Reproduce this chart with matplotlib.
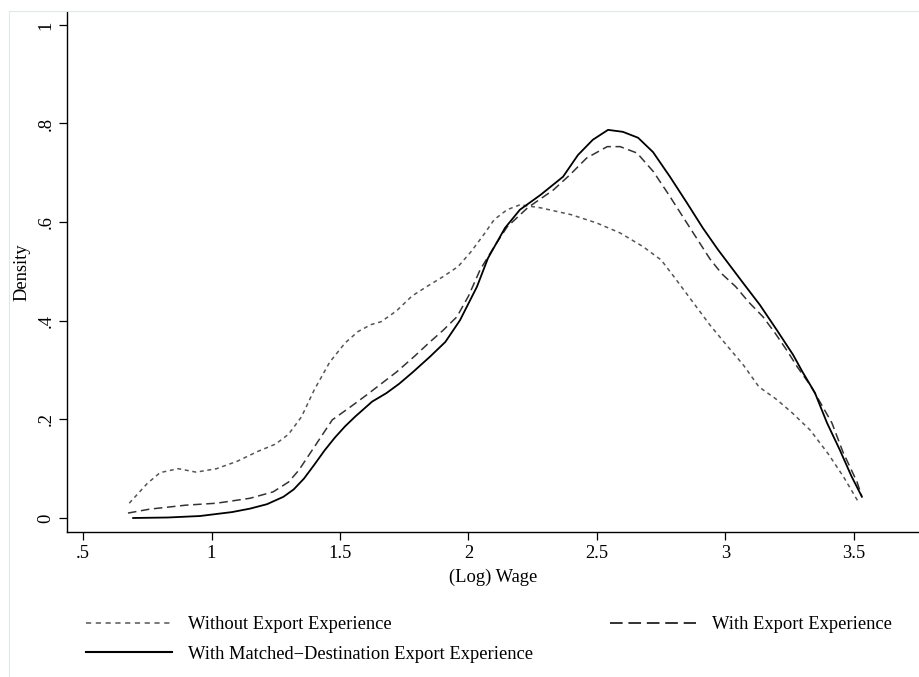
import matplotlib
matplotlib.use('Agg')
import matplotlib.pyplot as plt
from matplotlib.lines import Line2D

#%% data

# Without Export Experience (dotted)
x_wo = [0.68, 0.75, 0.80, 0.87, 0.94, 1.02, 1.10, 1.18, 1.25, 1.30, 1.35, 1.40,
        1.46, 1.52, 1.57, 1.62, 1.66, 1.72, 1.78, 1.84, 1.90, 1.96, 2.01, 2.06,
        2.10, 2.15, 2.20, 2.28, 2.40, 2.50, 2.59, 2.68, 2.75, 2.80, 2.87, 2.94,
        3.01, 3.07, 3.13, 3.20, 3.26, 3.33, 3.40, 3.46, 3.52]
y_wo = [0.030, 0.070, 0.092, 0.100, 0.093, 0.100, 0.115, 0.135, 0.150, 0.170, 0.205, 0.260,
        0.316, 0.355, 0.378, 0.392, 0.398, 0.420, 0.450, 0.470, 0.489, 0.510, 0.540, 0.575,
        0.605, 0.625, 0.635, 0.629, 0.615, 0.598, 0.578, 0.550, 0.523, 0.489, 0.440, 0.391,
        0.347, 0.310, 0.266, 0.240, 0.213, 0.178, 0.130, 0.083, 0.030]

# With Export Experience (dashed)
x_w = [0.675, 0.76, 0.90, 1.02, 1.15, 1.24, 1.30, 1.34, 1.40, 1.47, 1.54, 1.605,
       1.66, 1.72, 1.79, 1.85, 1.90, 1.955, 2.00, 2.045, 2.10, 2.15, 2.23, 2.33,
       2.395, 2.46, 2.54, 2.59, 2.656, 2.72, 2.78, 2.85, 2.94, 2.986, 3.04, 3.09,
       3.146, 3.193, 3.24, 3.28, 3.329, 3.368, 3.414, 3.457, 3.512, 3.53]
y_w = [0.010, 0.018, 0.026, 0.030, 0.040, 0.053, 0.073, 0.097, 0.144, 0.199, 0.225, 0.250,
       0.272, 0.296, 0.328, 0.357, 0.380, 0.408, 0.450, 0.503, 0.550, 0.590, 0.629, 0.665,
       0.696, 0.730, 0.753, 0.753, 0.740, 0.702, 0.655, 0.598, 0.525, 0.495, 0.469, 0.438,
       0.408, 0.375, 0.339, 0.306, 0.270, 0.235, 0.193, 0.134, 0.073, 0.045]

# With Matched-Destination Export Experience (solid)
x_m = [0.695, 0.83, 0.955, 1.08, 1.15, 1.216, 1.28, 1.32, 1.36, 1.40, 1.44, 1.48,
       1.52, 1.56, 1.625, 1.68, 1.73, 1.784, 1.85, 1.91, 1.967, 2.033, 2.076, 2.142,
       2.20, 2.28, 2.368, 2.426, 2.484, 2.543, 2.601, 2.66, 2.718, 2.784, 2.85, 2.912,
       2.971, 3.068, 3.134, 3.20, 3.263, 3.30, 3.348, 3.395, 3.445, 3.49, 3.531]
y_m = [0.000, 0.001, 0.004, 0.012, 0.019, 0.028, 0.043, 0.058, 0.080, 0.108, 0.137, 0.163,
       0.186, 0.206, 0.236, 0.253, 0.272, 0.296, 0.327, 0.357, 0.401, 0.469, 0.527, 0.588,
       0.625, 0.655, 0.692, 0.736, 0.767, 0.787, 0.783, 0.771, 0.742, 0.692, 0.639, 0.588,
       0.544, 0.477, 0.432, 0.381, 0.331, 0.296, 0.254, 0.193, 0.138, 0.085, 0.043]

xticks = [0.5, 1, 1.5, 2, 2.5, 3, 3.5]
xticklabels = ['.5', '1', '1.5', '2', '2.5', '3', '3.5']
yticks = [0, 0.2, 0.4, 0.6, 0.8, 1]
yticklabels = ['0', '.2', '.4', '.6', '.8', '1']

lab_wo = 'Without Export Experience'
lab_w = 'With Export Experience'
lab_m = 'With Matched\u2212Destination Export Experience'

#%% figure

plt.rcParams['font.family'] = ['Liberation Serif', 'DejaVu Serif']
fs = 13.3

fig = plt.figure(figsize=(9.2, 6.77), dpi=100)
ax = fig.add_axes([67/920, 145/677, 853/920, 520/677])

ax.plot(x_wo, y_wo, color='#555555', lw=1.1, dashes=(2.6, 2.4), label=lab_wo)
ax.plot(x_w, y_w, color='#333333', lw=1.1, dashes=(5.6, 3.0), label=lab_w)
ax.plot(x_m, y_m, color='black', lw=1.3, label=lab_m)

ax.set_xlim(0.4377, 3.757)
ax.set_ylim(-0.0284, 1.026)

ax.spines['top'].set_visible(False)
ax.spines['right'].set_visible(False)
ax.spines['left'].set_linewidth(1.0)
ax.spines['bottom'].set_linewidth(1.0)

ax.set_xticks(xticks)
ax.set_xticklabels(xticklabels, fontsize=fs)
ax.set_yticks(yticks)
ax.set_yticklabels(yticklabels, fontsize=fs, rotation=90, va='center')
ax.tick_params(length=6, width=0.9, pad=3)

ax.set_xlabel('(Log) Wage', fontsize=fs, labelpad=5)
ax.set_ylabel('Density', fontsize=fs, labelpad=5)

# legend below the plot, two columns (Stata style)
h_wo = Line2D([], [], color='#555555', lw=1.1, dashes=(3.4, 3.0))
h_w = Line2D([], [], color='#222222', lw=1.3, dashes=(7.0, 3.2))
h_m = Line2D([], [], color='black', lw=1.5)
fig.legend([h_wo, h_m, h_w], [lab_wo, lab_m, lab_w],
           loc='upper left', bbox_to_anchor=(86/920, 1 - 616/677),
           ncol=2, frameon=False, fontsize=fs,
           handlelength=4.65, handletextpad=0.86, columnspacing=4.2,
           labelspacing=0.68, borderpad=0, borderaxespad=0)

# faint outer frame of the graph region
fig.add_artist(Line2D([9/920, 9/920], [0, 1 - 11/677], transform=fig.transFigure,
                      color='#e2e8e8', lw=0.8))
fig.add_artist(Line2D([9/920, 1], [1 - 11/677, 1 - 11/677], transform=fig.transFigure,
                      color='#e2e8e8', lw=0.8))

fig.savefig('out.png', dpi=100)
